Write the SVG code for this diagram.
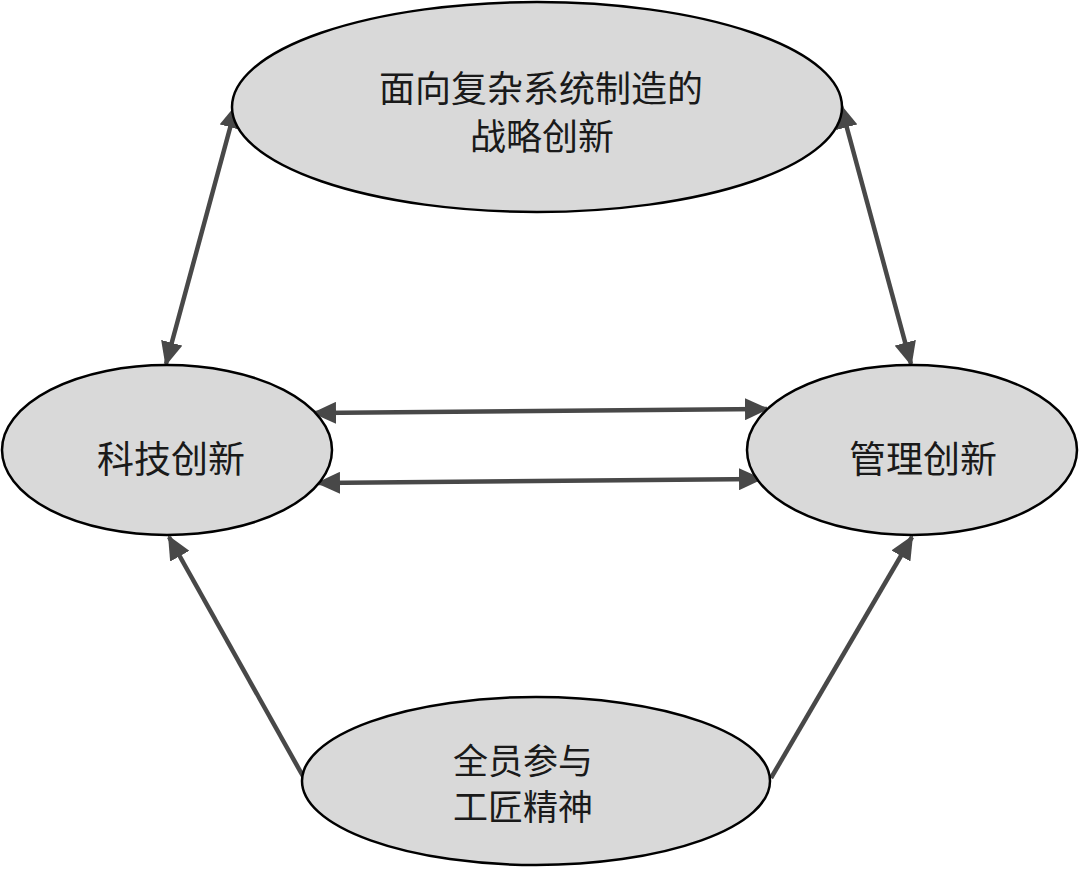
<svg xmlns="http://www.w3.org/2000/svg" width="1080" height="869" viewBox="0 0 1080 869">
<style>
.node ellipse{fill:#d9d9d9;stroke:#000;stroke-width:2.5}
.node text{font-family:"Noto Sans CJK SC","Noto Sans",sans-serif;font-size:37px;fill:#1a1a1a;text-anchor:middle;dominant-baseline:central}
.node text.md{font-size:36px}
.node text.sm{font-size:35px}
.conn line{stroke:#484848;stroke-width:4.5}
</style>
<defs>
<marker id="ah" markerUnits="userSpaceOnUse" markerWidth="24" markerHeight="22" refX="22" refY="11" orient="auto-start-reverse" viewBox="0 0 24 22">
<path d="M0,0 L24,11 L0,22 Z" fill="#484848"/>
</marker>
</defs>
<rect width="1080" height="869" fill="#fff"/>
<g class="conn" id="connectors">
<line x1="236" y1="106" x2="166" y2="364" marker-start="url(#ah)" marker-end="url(#ah)"/>
<line x1="841" y1="106" x2="911" y2="364" marker-start="url(#ah)" marker-end="url(#ah)"/>
<line x1="314" y1="413" x2="767" y2="409" marker-start="url(#ah)" marker-end="url(#ah)"/>
<line x1="318" y1="483" x2="761" y2="479" marker-start="url(#ah)" marker-end="url(#ah)"/>
<line x1="304" y1="778" x2="169" y2="537" marker-end="url(#ah)"/>
<line x1="771" y1="778" x2="912" y2="537" marker-end="url(#ah)"/>
</g>
<g class="node" id="strategy">
<ellipse cx="537" cy="107" rx="305" ry="105"/>
<text class="md" x="541" y="86">面向复杂系统制造的</text>
<text class="md" x="542" y="134">战略创新</text>
</g>
<g class="node" id="tech">
<ellipse cx="167" cy="450" rx="165" ry="85"/>
<text x="171" y="457">科技创新</text>
</g>
<g class="node" id="mgmt">
<ellipse cx="912" cy="450" rx="165" ry="85"/>
<text x="923" y="457">管理创新</text>
</g>
<g class="node" id="craft">
<ellipse cx="536" cy="781" rx="234" ry="84"/>
<text class="sm" x="523" y="758">全员参与</text>
<text class="sm" x="523" y="804">工匠精神</text>
</g>
</svg>
